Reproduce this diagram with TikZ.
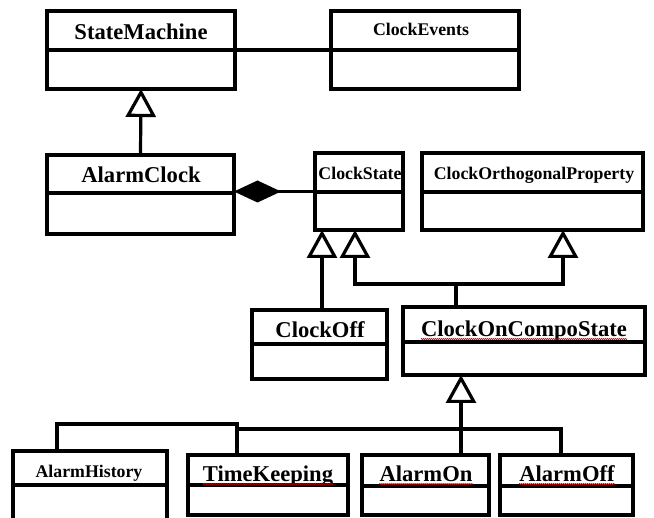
\documentclass[tikz,border=0pt]{standalone}
\usepackage{fontspec}
\setmainfont{Liberation Serif}
\usetikzlibrary{arrows.meta,fit,decorations.pathmorphing}

\tikzset{
  uml/.style={line width=3.2pt},
  cls/.style={draw, line width=3.2pt, inner sep=0pt, outer sep=0pt},
  bigname/.style={font=\fontsize{22.6}{26}\selectfont\bfseries, inner sep=0pt, anchor=base},
  smallname/.style={font=\fontsize{17.8}{21}\selectfont\bfseries, inner sep=0pt, anchor=base},
  gen/.style={uml, -{Triangle[open, length=28pt, width=30pt, fill=white]}},
  comp/.style={uml, -{Diamond[length=47pt, width=22pt]}},
  squiggle/.style={red!85!black, line width=0.6pt, decorate,
    decoration={zigzag, amplitude=0.6pt, segment length=2pt}},
}

% class box: name, left, top, right, bottom, y of the compartment line
\newcommand\umlclass[6]{%
  \coordinate (#1-a) at (#2,#3);
  \coordinate (#1-b) at (#4,#5);
  \node[cls, fit=(#1-a)(#1-b)] (#1) {};
  \draw[uml] (#2,#6) -- (#4,#6);
}

\begin{document}
\begin{tikzpicture}[x=1pt, y=-1pt]
\useasboundingbox (0,0) rectangle (654,518);
\clip (0,0) rectangle (654,518);

% classes
\umlclass{sm}{47}{11}{235}{89}{50}
\umlclass{ce}{331}{11}{519}{89}{50}
\umlclass{ac}{47}{155}{234}{234}{193}
\umlclass{cs}{315}{153}{403}{230}{192}
\umlclass{cop}{422}{153}{643}{230}{192}
\umlclass{coff}{252}{310}{387}{379}{344}
\umlclass{cocs}{403}{307}{645}{375}{342}
\umlclass{ah}{13}{451}{167}{540}{485}
\umlclass{tk}{188}{455}{348}{515}{485}
\umlclass{aon}{362}{455}{489}{515}{486}
\umlclass{aoff}{500}{455}{633}{515}{486}

% class names
\node[bigname]   (sm-t)   at (141,40)  {StateMachine};
\node[smallname] (ce-t)   at (421,36)  {ClockEvents};
\node[bigname]   (ac-t)   at (141,183) {AlarmClock};
\node[smallname] (cs-t)   at (360,180) {ClockState};
\node[smallname] (cop-t)  at (534,180) {ClockOrthogonalProperty};
\node[bigname]   (coff-t) at (320,338) {ClockOff};
\node[bigname]   (cocs-t) at (524,337) {ClockOnCompoState};
\node[smallname] (ah-t)   at (89,478)  {AlarmHistory};
\node[bigname]   (tk-t)   at (268,482) {TimeKeeping};
\node[bigname]   (aon-t)  at (426,482) {AlarmOn};
\node[bigname]   (aoff-t) at (567,482) {AlarmOff};

% spell-check marks under some names
\foreach \t in {cocs-t, tk-t, aon-t, aoff-t}
  \draw[squiggle] ([yshift=-2pt]\t.base west) -- ([yshift=-2pt]\t.base east);

% association and composition
\draw[uml] (sm.east) -- (ce.west);
\draw[comp] (cs.west) -- (cs.west -| ac.east);

% generalizations
\draw[gen] (ac.north) -- (sm.south);

\coordinate (csA) at (322,230);
\coordinate (csB) at (355,230);
\coordinate (copA) at (563,230);
\coordinate (busA) at (456,284);
\draw[gen] (coff.north -| csA) -- (csA);
\draw[uml] (cocs.north -| busA) -- (busA);
\draw[gen] (busA) -| (csB);
\draw[gen] (busA) -| (copA);

\coordinate (busB) at (461,429);
\coordinate (ahT) at (57,424);
\coordinate (tkT) at (237,424);
\coordinate (aoffT) at (561,429);
\draw[gen] (aon.north -| busB) -- (cocs.south -| busB);
\draw[uml] (ah.north -| ahT) -- (ahT) -- (tkT) -- (tk.north -| tkT);
\draw[uml] (tkT |- busB) -- (aoffT) -- (aoff.north -| aoffT);
\end{tikzpicture}
\end{document}
